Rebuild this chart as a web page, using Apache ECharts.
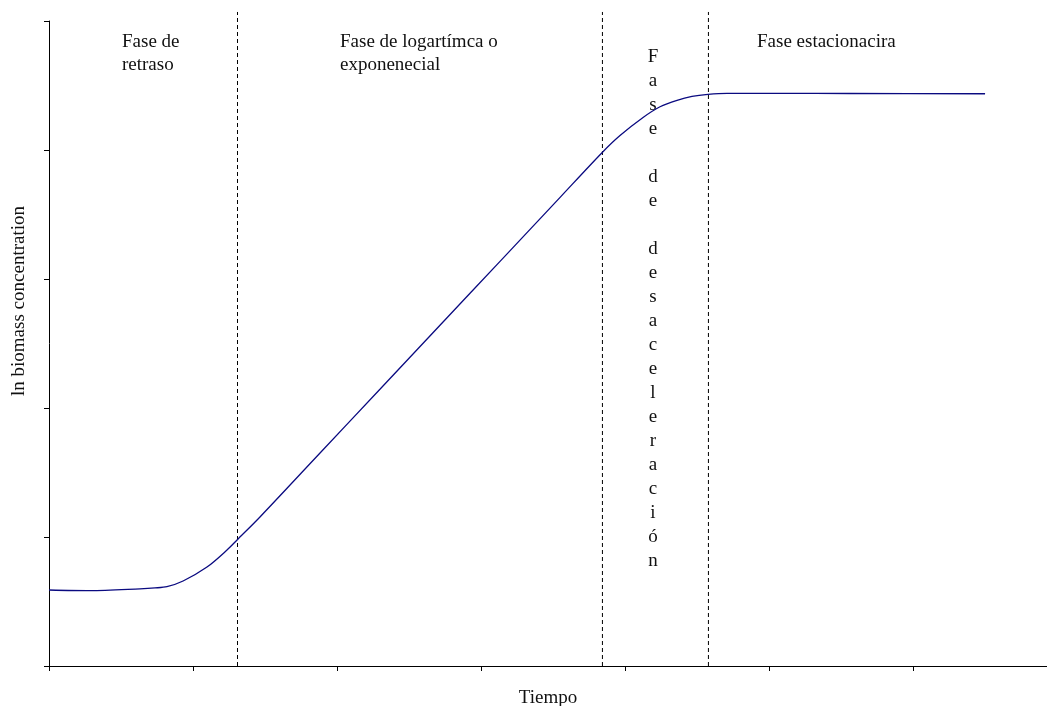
<!DOCTYPE html>
<html>
<head>
<meta charset="utf-8">
<script src="https://cdn.jsdelivr.net/npm/echarts@6/dist/echarts.min.js"></script>
<style>
  html, body { margin: 0; padding: 0; background: #fff; }
  #growthChart { width: 1047px; height: 706px; }
</style>
</head>
<body>
<div id="growthChart"></div>
<script>
// curva de crecimiento (unidades = separación entre marcas)
var tiempo = [0, 0.285, 0.632, 0.736, 0.819, 0.931, 1.097, 1.236, 1.306, 1.465, 1.882, 2.298, 2.715, 3.132, 3.549, 3.840, 3.965, 4.125, 4.243, 4.361, 4.465, 4.576, 4.708, 5.076, 5.563, 6.500];
var lnBiomasa = [0.589, 0.584, 0.598, 0.605, 0.615, 0.659, 0.767, 0.899, 0.977, 1.155, 1.651, 2.145, 2.641, 3.137, 3.633, 3.979, 4.112, 4.252, 4.335, 4.385, 4.415, 4.431, 4.439, 4.439, 4.438, 4.436];

// límites entre fases (líneas discontinuas)
var limitesFase = [1.309, 3.843, 4.579];
var limiteAlto = 5.07;

var xTicks = [0, 1, 2, 3, 4, 5, 6];
var xMax = 6.93;
var yMax = 5;

// texto vertical: "Fase", "de", "desaceleración" separados por una línea vacía
var textoVertical = ['F', 'a', 's', 'e', '', 'd', 'e', '', 'd', 'e', 's', 'a', 'c', 'e', 'l', 'e', 'r', 'a', 'c', 'i', 'ó', 'n'];

var fuente = 'Liberation Serif';

var serieCurva = tiempo.map(function (t, i) { return [t, lnBiomasa[i]]; });

var series = [{
    type: 'line',
    data: serieCurva,
    smooth: 0.3,
    symbol: 'none',
    lineStyle: { color: '#0a0a80', width: 1.3 },
    z: 3
}];

limitesFase.forEach(function (x) {
    series.push({
        type: 'line',
        data: [[x, 0], [x, limiteAlto]],
        symbol: 'none',
        clip: false,
        silent: true,
        lineStyle: { color: '#000', width: 1, type: [4, 3] },
        z: 2
    });
});

function texto(x, y, txt, align, lh) {
    return {
        type: 'text',
        x: x,
        y: y,
        style: {
            text: txt,
            font: '19px "' + fuente + '"',
            fill: '#111',
            align: align || 'left',
            verticalAlign: 'top',
            lineHeight: lh || 23
        }
    };
}

var option = {
    animation: false,
    grid: { left: 49, top: 21, right: 0, bottom: 40, outerBoundsMode: 'none', containLabel: false },
    xAxis: {
        type: 'value',
        min: 0,
        max: xMax,
        name: 'Tiempo',
        nameLocation: 'middle',
        nameGap: 23,
        nameTextStyle: { fontFamily: fuente, fontSize: 19, color: '#111' },
        axisLine: { lineStyle: { color: '#000', width: 1 } },
        axisTick: { show: true, length: 5, inside: false, customValues: xTicks, lineStyle: { color: '#000' } },
        axisLabel: { show: false },
        splitLine: { show: false }
    },
    yAxis: {
        type: 'value',
        min: 0,
        max: yMax,
        interval: 1,
        axisLine: { show: true, lineStyle: { color: '#000', width: 1 } },
        axisTick: { show: true, length: 5, lineStyle: { color: '#000' } },
        axisLabel: { show: false },
        splitLine: { show: false }
    },
    graphic: [
        texto(122, 31, 'Fase de\nretraso'),
        texto(340, 31, 'Fase de logartímca o\nexponenecial'),
        texto(757, 31, 'Fase estacionacira'),
        texto(653, 45, textoVertical.join('\n'), 'center', 24),
        {
            type: 'text',
            x: 19,
            y: 301,
            rotation: Math.PI / 2,
            style: {
                text: 'ln biomass concentration',
                font: '19px "' + fuente + '"',
                fill: '#111',
                align: 'center',
                verticalAlign: 'middle'
            }
        }
    ],
    series: series
};

var chart = echarts.init(document.getElementById('growthChart'));
chart.setOption(option);
</script>
</body>
</html>
